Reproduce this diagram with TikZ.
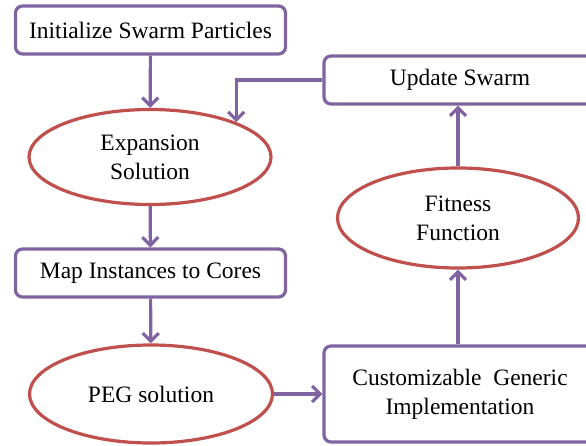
\documentclass[tikz,border=0pt]{standalone}
\usepackage{fontspec}
\setmainfont{Liberation Serif}
\usetikzlibrary{shapes.geometric,arrows.meta}
\definecolor{flowpurple}{HTML}{8064A2}
\definecolor{flowred}{HTML}{C0504D}
\begin{document}
\begin{tikzpicture}[x=1pt,y=-1pt,
  stepbox/.style={draw=flowpurple, line width=3.2pt, rounded corners=7pt, fill=white,
    inner sep=0pt, font=\fontsize{23.5}{29}\selectfont, align=center},
  oval/.style={ellipse, draw=flowred, line width=3.2pt, fill=white,
    inner sep=0pt, font=\fontsize{23.5}{29}\selectfont, align=center},
  link/.style={draw=flowpurple, line width=3.2pt,
    -{Straight Barb[length=8pt,width=16pt,line width=3.2pt]}}]
\useasboundingbox (0,0) rectangle (586,446);
\clip (0,0) rectangle (586,446);

% left column
\node[stepbox, minimum width=270pt, minimum height=48pt] (init) at (150.5,30) {Initialize Swarm Particles};
\node[oval, minimum width=242pt, minimum height=95pt] (exp) at (150,157) {Expansion\\Solution};
\node[stepbox, minimum width=270pt, minimum height=48pt] (map) at (150.5,273) {Map Instances to Cores};
\node[oval, minimum width=243pt, minimum height=98pt] (peg) at (151,394) {PEG solution};

% right column (boxes run past the right edge)
\node[stepbox, minimum width=272pt, minimum height=96pt] (cust) at (460,394) {Customizable\ \ Generic\\Implementation};
\node[oval, minimum width=241pt, minimum height=100pt] (fit) at (458,218) {Fitness\\Function};
\node[stepbox, minimum width=272pt, minimum height=48pt] (upd) at (460,80) {Update Swarm};

% connectors
\draw[link] (init) -- (exp);
\draw[link] (exp) -- (map);
\draw[link] (map) -- (peg);
\draw[link] (peg) -- (cust);
\draw[link] (cust.north -| fit.south) -- (fit.south);
\draw[link] (fit) -- (upd.south -| fit.north);
\draw[link] (upd.west) -| (exp.22);
\end{tikzpicture}
\end{document}
